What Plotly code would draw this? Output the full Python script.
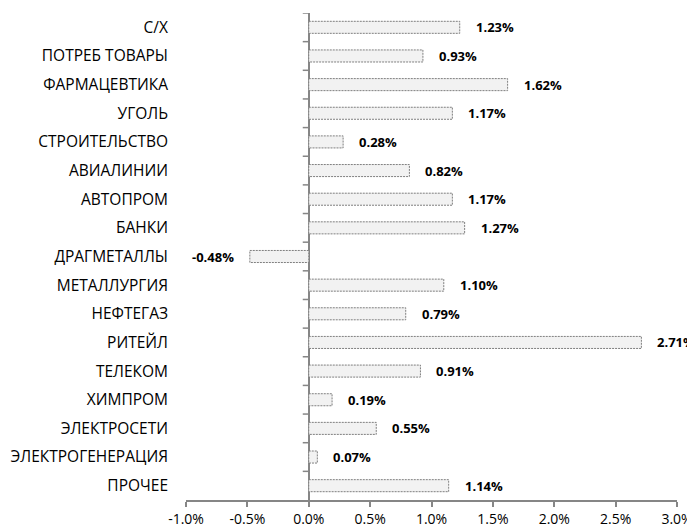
import plotly.graph_objects as go

categories = ["С/Х", "ПОТРЕБ ТОВАРЫ", "ФАРМАЦЕВТИКА", "УГОЛЬ", "СТРОИТЕЛЬСТВО",
              "АВИАЛИНИИ", "АВТОПРОМ", "БАНКИ", "ДРАГМЕТАЛЛЫ", "МЕТАЛЛУРГИЯ",
              "НЕФТЕГАЗ", "РИТЕЙЛ", "ТЕЛЕКОМ", "ХИМПРОМ", "ЭЛЕКТРОСЕТИ",
              "ЭЛЕКТРОГЕНЕРАЦИЯ", "ПРОЧЕЕ"]
values = [1.23, 0.93, 1.62, 1.17, 0.28, 0.82, 1.17, 1.27, -0.48, 1.10,
          0.79, 2.71, 0.91, 0.19, 0.55, 0.07, 1.14]
x_ticks = [-1.0, -0.5, 0.0, 0.5, 1.0, 1.5, 2.0, 2.5, 3.0]
x_tick_labels = ["-1.0%", "-0.5%", "0.0%", "0.5%", "1.0%", "1.5%", "2.0%", "2.5%", "3.0%"]

FONT = "Open Sans"
BAR_W = 0.42
pos = list(range(len(categories)))

fig = go.Figure()
fig.add_trace(go.Bar(
    x=values, y=pos, orientation="h", width=BAR_W,
    marker=dict(color="#f2f2f2", line=dict(width=0)),
    hoverinfo="skip", showlegend=False,
))

# dashed outlines of bars
ox, oy = [], []
for p, v in zip(pos, values):
    ox += [0, v, v, 0, 0, None]
    oy += [p - BAR_W / 2, p - BAR_W / 2, p + BAR_W / 2, p + BAR_W / 2, p - BAR_W / 2, None]
fig.add_trace(go.Scatter(
    x=ox, y=oy, mode="lines",
    line=dict(color="#7f7f7f", width=1, dash="2px,1px"),
    hoverinfo="skip", showlegend=False,
))

# value labels
for p, v in zip(pos, values):
    fig.add_annotation(
        x=v, y=p, xref="x", yref="y", text=f"<b>{v:.2f}%</b>", showarrow=False,
        xanchor="left" if v >= 0 else "right", xshift=14 if v >= 0 else -14,
        font=dict(family=FONT, size=13, color="#000000"),
    )

# tick marks on the zero axis at category boundaries
for b in [p - 0.5 for p in pos]:
    fig.add_shape(type="line", xref="x", yref="y", xsizemode="pixel", xanchor=0,
                  x0=-6, x1=0, y0=b, y1=b, line=dict(color="#868686", width=1.5))

# page body has an 8px default margin, so the figure is sized to fit the window
fig.update_layout(
    width=687, height=523,
    margin=dict(l=178, r=18, t=5, b=31),
    paper_bgcolor="white", plot_bgcolor="white",
    font=dict(family=FONT, color="#000000"),
    xaxis=dict(
        range=[-1.0, 3.0], tickvals=x_ticks, ticktext=x_tick_labels,
        showgrid=False, zeroline=True, zerolinecolor="#868686", zerolinewidth=2,
        showline=True, linecolor="#868686", linewidth=1.5,
        ticks="outside", ticklen=5, tickcolor="#868686", tickwidth=1.5,
        tickfont=dict(family=FONT, size=14, color="#000000"),
        automargin=False,
    ),
    yaxis=dict(
        range=[16.5, -0.5], tickvals=pos, ticktext=categories,
        showgrid=False, zeroline=False, showline=False, ticks="",
        ticklabelstandoff=17,
        tickfont=dict(family=FONT, size=15.5, color="#000000"),
        automargin=False,
    ),
)

fig.write_html("out.html")
